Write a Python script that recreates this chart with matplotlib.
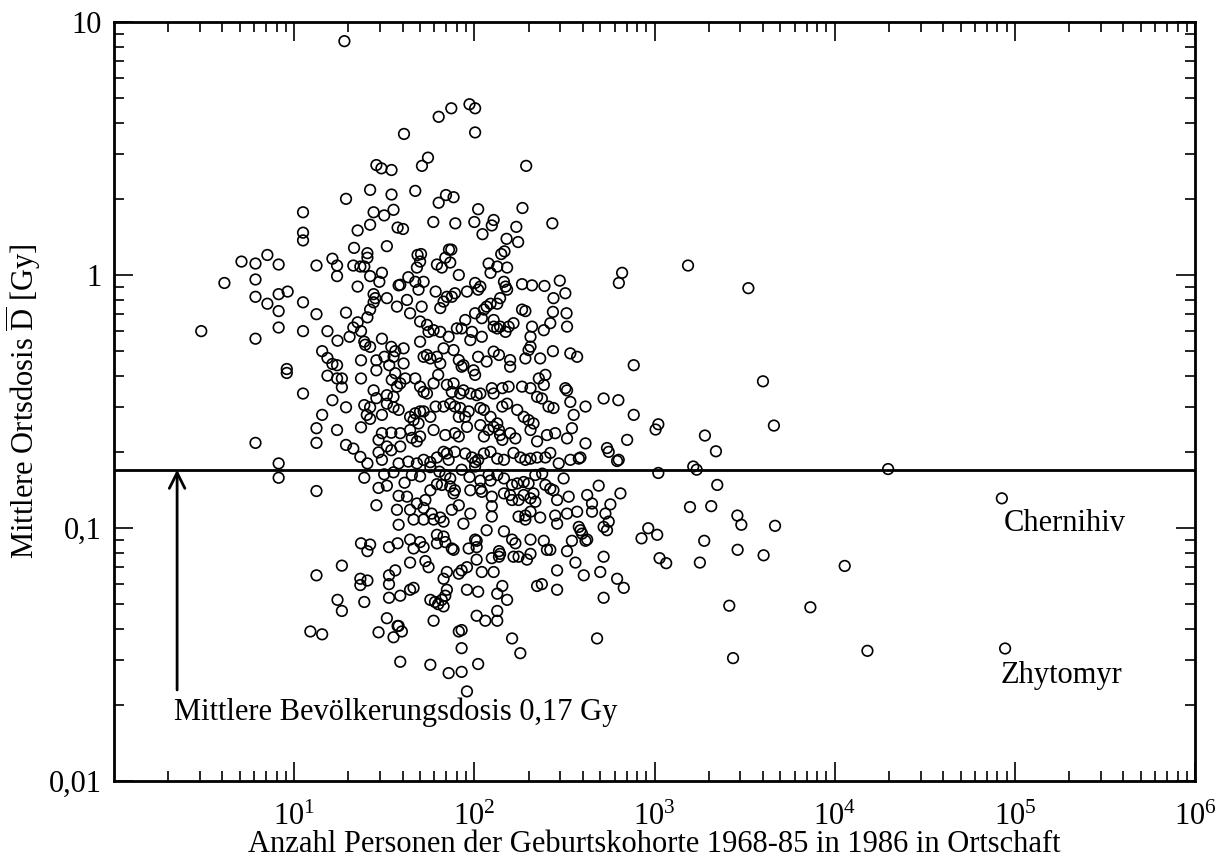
import matplotlib
matplotlib.use("Agg")
import matplotlib.pyplot as plt
from matplotlib.ticker import LogLocator, FixedLocator, FixedFormatter, NullFormatter

# ============================================================
# Mittlere Ortsdosis vs. Kohortengroesse (Ortschaften)
# values: (persons, dose in Gy)
# ============================================================

upper_pts = [
    (19, 8.4), (28.6, 2.72), (30.5, 2.64), (34.7, 2.60), (26.4, 2.17), (34.7, 2.08), (19.4, 2.0),
    (11.2, 1.77), (27.6, 1.77), (35.6, 1.81), (31.6, 1.72), (26.4, 1.58), (22.5, 1.50), (37.5, 1.54),
    (11.2, 1.47), (11.2, 1.37), (21.5, 1.28), (32.7, 1.30), (25.5, 1.22), (25.5, 1.17), (7.1, 1.20),
    (16.3, 1.16),
    (94, 4.73), (101, 4.56), (74.5, 4.56), (63.4, 4.22), (40.7, 3.61), (101, 3.66), (55.3, 2.91),
    (51.2, 2.70), (194, 2.70), (47, 2.15), (69.6, 2.07), (76.7, 2.03), (63.4, 1.93), (105, 1.82),
    (185, 1.84), (59.2, 1.62), (78.4, 1.60), (100, 1.62), (128, 1.65), (125, 1.57), (111, 1.45),
    (171, 1.55), (271, 1.60), (40.2, 1.52), (151, 1.39), (175, 1.35), (48.4, 1.20), (50.6, 1.21),
    (72.3, 1.26), (74.5, 1.26), (69, 1.17), (141, 1.21), (147, 1.24),
]

left_pts = [
    (5.1, 1.13), (6.1, 1.11), (8.2, 1.10), (13.3, 1.09), (17.3, 1.09), (17.3, 0.99), (21.3, 1.09),
    (23.3, 1.08), (24.5, 1.08), (26.4, 0.99), (30.7, 1.02), (29.7, 0.94), (38, 0.91), (4.1, 0.93),
    (6.1, 0.96), (6.1, 0.82), (8.2, 0.84), (9.2, 0.86), (7.1, 0.77), (11.2, 0.78), (8.2, 0.72),
    (13.3, 0.70), (19.4, 0.71), (22.5, 0.90), (27.6, 0.84), (28.2, 0.81), (27.6, 0.78), (26.4, 0.73),
    (25.5, 0.68), (32.7, 0.81), (37.2, 0.75),
    (3.05, 0.60), (6.1, 0.56), (8.2, 0.62), (11.2, 0.60), (15.3, 0.60), (17.4, 0.55), (20.3, 0.57),
    (21.3, 0.62), (22.5, 0.65), (23.5, 0.60), (24.5, 0.545), (24.8, 0.53), (26.4, 0.52), (30.7, 0.56),
    (34.6, 0.52), (36.4, 0.50), (14.3, 0.50), (15.3, 0.47), (16.3, 0.445), (17.3, 0.44), (15.3, 0.40),
    (17.3, 0.39), (18.4, 0.39), (18.4, 0.36), (9.1, 0.425), (9.1, 0.41), (11.2, 0.34), (16.3, 0.32),
    (19.4, 0.30), (14.3, 0.28), (23.5, 0.46), (23.5, 0.39), (28.6, 0.46), (31.7, 0.475), (33.7, 0.44),
    (28.6, 0.42), (35.6, 0.475), (27.6, 0.35), (28.6, 0.326), (32.7, 0.335), (35.6, 0.33),
    (24.5, 0.306), (26.4, 0.30), (32.7, 0.31), (35.6, 0.30), (25.3, 0.28), (26.4, 0.27), (30.7, 0.28),
    (23.5, 0.25), (13.3, 0.248), (17.3, 0.244), (13.3, 0.217), (6.1, 0.217), (19.4, 0.213),
    (21.3, 0.206), (23.3, 0.191), (29.4, 0.223), (30.7, 0.237), (34.6, 0.238), (29.4, 0.199),
    (32.7, 0.21), (34.6, 0.203), (30.7, 0.186),
    (8.2, 0.180), (8.2, 0.158), (13.3, 0.140), (25.5, 0.180), (24.5, 0.158), (31.6, 0.163),
    (35.6, 0.166), (29.4, 0.144), (32.7, 0.147), (38, 0.134), (28.6, 0.123), (38, 0.103),
    (23.5, 0.087), (26.4, 0.086), (25.5, 0.081), (33.6, 0.084), (37.5, 0.087), (18.4, 0.071),
    (13.3, 0.065), (23.3, 0.063), (25.5, 0.062), (23.3, 0.0595), (33.6, 0.065), (36.4, 0.068),
    (33.6, 0.060), (33.6, 0.053), (38.8, 0.054), (17.4, 0.052), (18.4, 0.047), (24.5, 0.051),
    (32.7, 0.044), (37.5, 0.041), (12.3, 0.039), (14.3, 0.038), (29.4, 0.0387), (35.6, 0.037),
    (38.8, 0.0296),
]

core_pts = [
    (50, 1.13), (62, 1.10), (66, 1.07), (73.5, 1.12), (120, 1.11), (123, 1.02), (134, 1.08),
    (152, 1.07), (82, 1.0), (38.8, 0.915), (43, 0.98), (48, 1.07), (47, 0.94), (52.3, 0.94),
    (184, 0.92), (209, 0.91), (245, 0.905), (298, 0.95), (661, 1.02), (634, 0.93), (101, 0.93),
    (108, 0.90), (105, 0.875), (146, 0.94), (149, 0.90), (152, 0.875),
    (49, 0.875), (61, 0.86), (70.4, 0.82), (78, 0.847), (91, 0.86), (42.3, 0.797), (51, 0.75),
    (64.7, 0.74), (67.5, 0.785), (75, 0.82), (123, 0.77), (117, 0.75), (113, 0.73), (134, 0.77),
    (139, 0.81), (101, 0.706), (89, 0.664), (184, 0.73), (192, 0.72), (275, 0.81), (320, 0.847),
    (273, 0.715), (325, 0.706), (264, 0.645), (327, 0.625), (110, 0.675), (128, 0.664), (139, 0.625),
    (155, 0.625), (165, 0.645), (209, 0.625), (243, 0.605), (372, 0.475), (341, 0.49), (273, 0.50),
    (44, 0.706), (50, 0.655), (54.6, 0.635), (59.4, 0.605), (64.7, 0.596), (55.7, 0.596), (72, 0.57),
    (80, 0.615), (85, 0.615), (97, 0.596), (95, 0.553), (110, 0.57), (128, 0.625), (134, 0.615),
    (149, 0.596), (205, 0.57), (205, 0.521), (200, 0.505), (50, 0.545), (40.5, 0.513),
    (52.3, 0.475), (54.6, 0.483), (57, 0.468), (62, 0.475), (67.5, 0.513), (76.7, 0.505),
    (82, 0.461), (85, 0.434), (87, 0.44), (99, 0.42), (101, 0.403), (105, 0.475), (117, 0.455),
    (128, 0.498), (137, 0.483), (158, 0.461), (158, 0.434), (192, 0.468), (232, 0.468),
    (40.5, 0.447), (41.4, 0.39), (47, 0.39), (36.4, 0.409), (34.8, 0.385), (37.2, 0.362),
    (38.8, 0.373),
    (50, 0.362), (52.3, 0.345), (54.6, 0.34), (59.4, 0.373), (63, 0.403), (64.7, 0.447),
    (70.4, 0.368), (75, 0.345), (76.7, 0.373), (83.5, 0.34), (87, 0.35), (95, 0.34), (103, 0.335),
    (108, 0.34), (125, 0.357), (128, 0.34), (143, 0.357), (155, 0.362), (184, 0.362), (205, 0.357),
    (228, 0.39), (248, 0.403), (243, 0.368), (320, 0.357), (327, 0.35), (341, 0.315), (414, 0.302),
    (522, 0.325), (630, 0.32), (767, 0.44),
    (38, 0.293), (44, 0.275), (47, 0.284), (49, 0.259), (50, 0.289), (52.3, 0.289), (57, 0.275),
    (61, 0.302), (67.5, 0.302), (73.5, 0.31), (78, 0.302), (83.5, 0.298), (82, 0.275), (89, 0.275),
    (93, 0.289), (108, 0.298), (113, 0.293), (123, 0.275), (143, 0.302), (152, 0.31), (173, 0.293),
    (188, 0.275), (200, 0.267), (213, 0.259), (223, 0.33), (237, 0.325), (258, 0.302), (275, 0.298),
    (356, 0.28), (767, 0.28), (38.8, 0.237), (44, 0.244), (46, 0.267),
    (48, 0.22), (45, 0.227), (50, 0.23), (59.4, 0.244), (69, 0.233), (78, 0.237), (82, 0.23),
    (91, 0.251), (108, 0.255), (113, 0.23), (120, 0.244), (128, 0.251), (134, 0.259), (137, 0.244),
    (139, 0.233), (143, 0.223), (158, 0.237), (169, 0.226), (205, 0.244), (223, 0.22), (253, 0.233),
    (281, 0.237), (327, 0.226), (348, 0.248), (414, 0.216), (545, 0.207), (557, 0.20), (705, 0.223),
    (38.8, 0.21),
    (52.3, 0.186), (57, 0.182), (62, 0.19), (67.5, 0.2), (70.4, 0.197), (72, 0.186), (78, 0.2),
    (89, 0.197), (97, 0.19), (101, 0.182), (105, 0.186), (113, 0.197), (123, 0.2), (134, 0.188),
    (146, 0.186), (165, 0.198), (180, 0.19), (192, 0.186), (205, 0.188), (223, 0.19), (248, 0.19),
    (264, 0.198), (294, 0.18), (341, 0.186), (380, 0.188), (388, 0.19), (620, 0.184), (633, 0.186),
]

lower_pts = [
    (38, 0.18), (43, 0.183), (48, 0.18),
    (41, 0.151), (45, 0.162), (50, 0.16), (57, 0.174), (64, 0.167), (69, 0.162), (73.5, 0.157),
    (85, 0.17), (94, 0.159), (101, 0.175), (108, 0.154), (120, 0.162), (123, 0.154), (134, 0.162),
    (146, 0.157), (162, 0.148), (173, 0.15), (188, 0.152), (200, 0.15), (218, 0.162), (238, 0.164),
    (248, 0.148), (264, 0.143), (275, 0.141), (313, 0.157), (490, 0.147), (647, 0.137),
    (42.3, 0.133), (48, 0.125), (53.5, 0.129), (57, 0.141), (62, 0.149), (66, 0.148), (73.5, 0.146),
    (78, 0.141), (76.7, 0.137), (82, 0.123), (95, 0.141), (108, 0.143), (110, 0.139), (125, 0.133),
    (125, 0.122), (146, 0.137), (158, 0.135), (162, 0.129), (176, 0.129), (188, 0.135), (205, 0.131),
    (213, 0.137), (218, 0.127), (288, 0.129), (334, 0.133), (423, 0.135), (450, 0.125), (569, 0.124),
    (37.2, 0.118), (44, 0.118), (52.3, 0.12), (58, 0.114), (59.4, 0.108), (64.7, 0.11), (67.5, 0.106),
    (75, 0.118), (87, 0.104), (95, 0.114), (125, 0.111), (176, 0.111), (192, 0.112), (192, 0.108),
    (205, 0.116), (232, 0.11), (281, 0.112), (288, 0.104), (327, 0.114), (372, 0.116), (380, 0.101),
    (450, 0.116), (522, 0.101), (545, 0.098), (557, 0.106), (534, 0.114), (46, 0.108), (52.3, 0.108),
    (117, 0.098), (146, 0.097), (162, 0.09), (169, 0.087), (205, 0.09), (243, 0.089), (264, 0.082),
    (327, 0.081), (348, 0.089), (388, 0.098), (396, 0.095), (414, 0.089), (423, 0.09),
    (44, 0.09), (46, 0.083), (50, 0.088), (52.3, 0.084), (62, 0.094), (62, 0.087), (67.5, 0.0925),
    (69, 0.088), (75, 0.083), (76.7, 0.082), (93, 0.083), (101, 0.09), (103, 0.089), (103, 0.084),
    (125, 0.076), (137, 0.081), (139, 0.079), (137, 0.077), (165, 0.077), (176, 0.077), (196, 0.075),
    (205, 0.079), (253, 0.082),
    (44, 0.073), (53.5, 0.074), (55.7, 0.07), (67.5, 0.063), (70.4, 0.067), (82, 0.066), (85, 0.068),
    (91, 0.07), (103, 0.075), (110, 0.067), (128, 0.067), (288, 0.068), (364, 0.073), (405, 0.065),
    (500, 0.067), (522, 0.077), (620, 0.063), (675, 0.058),
    (44, 0.057), (46, 0.058), (57, 0.052), (60.5, 0.051), (63, 0.05), (66, 0.052), (67.5, 0.049),
    (69, 0.054), (70.4, 0.057), (91, 0.057), (105, 0.056), (134, 0.055), (143, 0.059), (152, 0.052),
    (223, 0.059), (237, 0.06), (288, 0.057), (522, 0.053),
    (38, 0.041), (39.6, 0.039), (59.4, 0.043), (82, 0.039), (85, 0.0395), (103, 0.045), (115, 0.043),
    (134, 0.043), (134, 0.047), (162, 0.0366), (180, 0.032), (480, 0.0366), (85, 0.0335),
    (57, 0.0288), (72, 0.0267), (85, 0.027), (105, 0.029), (91, 0.0226),
]

sparse_pts = [
    (1535, 1.09), (3319, 0.887), (4000, 0.38), (1050, 0.257), (1014, 0.245), (1905, 0.232),
    (4600, 0.254), (2193, 0.201), (1641, 0.175), (1714, 0.17), (1050, 0.165), (19800, 0.171),
    (2230, 0.148),
    (1574, 0.121), (2065, 0.122), (2884, 0.112), (3034, 0.103), (4667, 0.102), (923, 0.0998),
    (1035, 0.094), (847, 0.091), (1888, 0.089), (2893, 0.082), (4033, 0.078), (1067, 0.076),
    (1161, 0.0726), (1786, 0.073), (11370, 0.0708), (2600, 0.0493), (7330, 0.0486), (2729, 0.0306),
    (15200, 0.0327),
]

cities = ["Chernihiv", "Zhytomyr"]
city_persons = [84700, 88300]
city_dose = [0.131, 0.0334]

mean_dose = 0.17
mean_label = "Mittlere Bevölkerungsdosis 0,17 Gy"

x_major = [1e1, 1e2, 1e3, 1e4, 1e5, 1e6]
x_labels = [r"$10^{1}$", r"$10^{2}$", r"$10^{3}$", r"$10^{4}$", r"$10^{5}$", r"$10^{6}$"]
y_major = [0.01, 0.1, 1, 10]
y_labels = ["0,01", "0,1", "1", "10"]

# ============================================================
# STYLE
# ============================================================

plt.rcParams["font.family"] = ["Liberation Serif", "DejaVu Serif"]
plt.rcParams["mathtext.fontset"] = "custom"
plt.rcParams["mathtext.rm"] = "Liberation Serif"
plt.rcParams["mathtext.it"] = "Liberation Serif:italic"
plt.rcParams["mathtext.bf"] = "Liberation Serif:bold"

FS = 22

all_pts = upper_pts + left_pts + core_pts + lower_pts + sparse_pts
persons = [p[0] for p in all_pts]
dose = [p[1] for p in all_pts]

fig = plt.figure(figsize=(12.2, 8.58), dpi=100)
ax = fig.add_axes([114 / 1220, 1 - 781 / 858, (1195 - 114) / 1220, (781 - 22) / 858])

ax.scatter(persons, dose, s=58, facecolors="none", edgecolors="black", linewidths=1.2, zorder=3)
ax.scatter(city_persons, city_dose, s=58, facecolors="none", edgecolors="black", linewidths=1.2, zorder=3)

ax.axhline(mean_dose, color="black", lw=2.0, zorder=2)

ax.set_xscale("log")
ax.set_yscale("log")
ax.set_xlim(1, 1e6)
ax.set_ylim(0.01, 10)

ax.xaxis.set_major_locator(FixedLocator(x_major))
ax.xaxis.set_major_formatter(FixedFormatter(x_labels))
ax.xaxis.set_minor_locator(LogLocator(base=10, subs=range(2, 10), numticks=20))
ax.xaxis.set_minor_formatter(NullFormatter())
ax.yaxis.set_major_locator(FixedLocator(y_major))
ax.yaxis.set_major_formatter(FixedFormatter(y_labels))
ax.yaxis.set_minor_locator(LogLocator(base=10, subs=range(2, 10), numticks=20))
ax.yaxis.set_minor_formatter(NullFormatter())

ax.tick_params(which="both", direction="in", top=True, right=True, labelsize=FS, width=1.2)
ax.tick_params(which="major", length=14)
ax.tick_params(which="minor", length=7)
ax.tick_params(axis="x", pad=16)
ax.tick_params(axis="y", pad=9)

for s in ax.spines.values():
    s.set_linewidth(2.0)

ax.set_xlabel("Anzahl Personen der Geburtskohorte 1968-85 in 1986 in Ortschaft", fontsize=FS, labelpad=-2)
ax.set_ylabel(r"Mittlere Ortsdosis $\overline{\mathrm{D}}$ [Gy]", fontsize=FS, labelpad=4)

# arrow to the mean line and its label
ax.annotate("", xy=(2.24, mean_dose), xytext=(2.24, 0.0229),
            arrowprops=dict(arrowstyle="->", lw=2.0, color="black", mutation_scale=28,
                            shrinkA=0, shrinkB=0))
ax.text(2.15, 0.0187, mean_label, fontsize=FS, ha="left", va="center")

# city labels
ax.annotate(cities[0], (city_persons[0], city_dose[0]), xytext=(1.5, -18),
            textcoords="offset points", fontsize=FS, ha="left", va="center")
ax.annotate(cities[1], (city_persons[1], city_dose[1]), xytext=(-3.5, -19.5),
            textcoords="offset points", fontsize=FS, ha="left", va="center")

fig.savefig("out.png", dpi=100)
